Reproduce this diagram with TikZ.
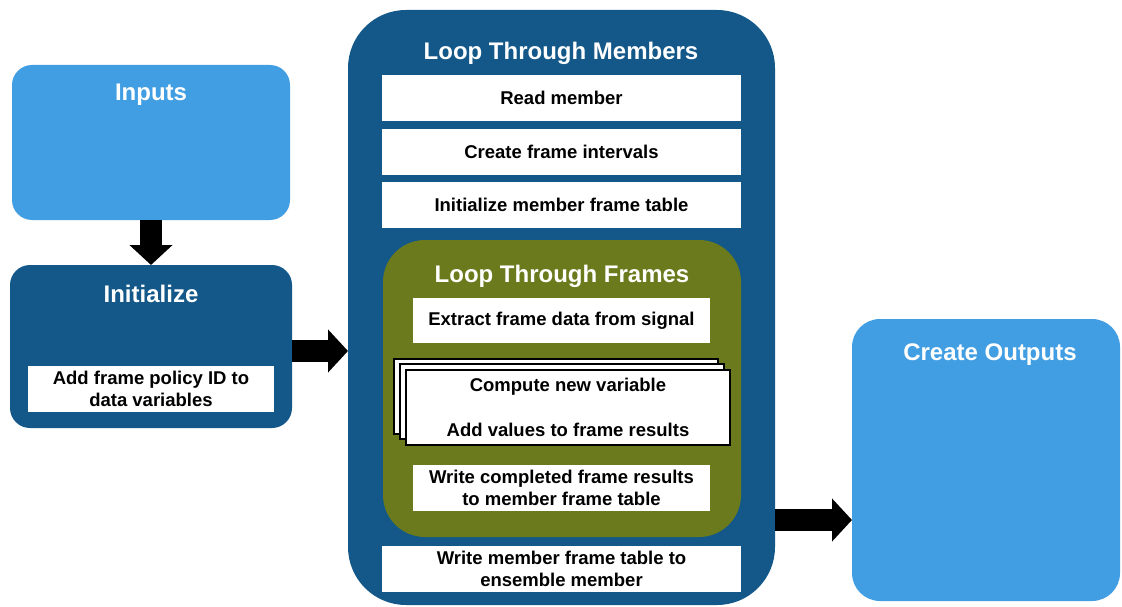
\documentclass[tikz,border=0pt]{standalone}
\usepackage{fontspec}
\setmainfont{Liberation Sans}
\usetikzlibrary{arrows.meta}
\definecolor{lblue}{HTML}{429EE3}
\definecolor{dblue}{HTML}{135888}
\definecolor{olivegreen}{HTML}{6B7A1C}
\begin{document}
\begin{tikzpicture}[x=1pt,y=-1pt,
  panel/.style={anchor=north west, inner sep=0pt, outer sep=0pt},
  titletext/.style={text=white, font=\bfseries\fontsize{24}{28}\selectfont},
  boxfont/.style={font=\bfseries\fontsize{18.5}{22}\selectfont, align=center},
  wbox/.style={panel, fill=white, boxfont},
  stackbox/.style={panel, fill=white, draw=black, line width=1.5pt},
  bigarrow/.style={line width=22pt, -{Triangle[length=20pt,width=42pt]}}]
\useasboundingbox (0,0) rectangle (1122,607);
% Inputs
\node[panel, fill=lblue, rounded corners=20pt, minimum width=278pt, minimum height=155pt] (inputs) at (12,65) {};
\node[titletext] (tinputs) at (151,95) {Inputs};
% Initialize
\node[panel, fill=dblue, rounded corners=20pt, minimum width=282pt, minimum height=163pt] (init) at (10,265) {};
\node[titletext] (tinit) at (151,294) {Initialize};
\node[wbox, minimum width=246pt, minimum height=46pt] (addpol) at (28,366) {Add frame policy ID to\\data variables};
% Loop Through Members
\node[panel, fill=dblue, rounded corners=58pt, minimum width=427pt, minimum height=595pt] (members) at (348,10) {};
\node[titletext] (tmembers) at (561,53) {Loop Through Members};
\node[wbox, minimum width=359pt, minimum height=46pt] (read) at (382,75) {Read member};
\node[wbox, minimum width=359pt, minimum height=46pt] (intervals) at (382,129) {Create frame intervals};
\node[wbox, minimum width=359pt, minimum height=46pt] (inittab) at (382,182) {Initialize member frame table};
\node[wbox, minimum width=359pt, minimum height=46pt] (writemem) at (382,546) {Write member frame table to\\ensemble member};
% Loop Through Frames
\node[panel, fill=olivegreen, rounded corners=42pt, minimum width=358pt, minimum height=297pt] (frames) at (383,240) {};
\node[titletext] (tframes) at (562,276) {Loop Through Frames};
\node[wbox, minimum width=297pt, minimum height=45pt] (extract) at (413,298) {Extract frame data from signal};
\node[stackbox, minimum width=324pt, minimum height=75pt] (stack3) at (394,359) {};
\node[stackbox, minimum width=324pt, minimum height=75pt] (stack2) at (400,364) {};
\node[stackbox, minimum width=324pt, minimum height=75pt, boxfont] (stack1) at (406,370) {Compute new variable\\[23pt]Add values to frame results};
\node[wbox, minimum width=297pt, minimum height=46pt] (writefr) at (413,465) {Write completed frame results\\to member frame table};
% Create Outputs
\node[panel, fill=lblue, rounded corners=28pt, minimum width=268pt, minimum height=282pt] (outputs) at (852,319) {};
\node[titletext] (toutputs) at (990,355) {Create Outputs};
% Arrows
\draw[bigarrow] (inputs.south) -- (init.north);
\coordinate (a1) at (init.east |- 0,351);
\draw[bigarrow] (a1) -- (a1 -| members.west);
\coordinate (a2) at (members.east |- 0,520);
\draw[bigarrow] (a2) -- (a2 -| outputs.west);
\end{tikzpicture}
\end{document}
